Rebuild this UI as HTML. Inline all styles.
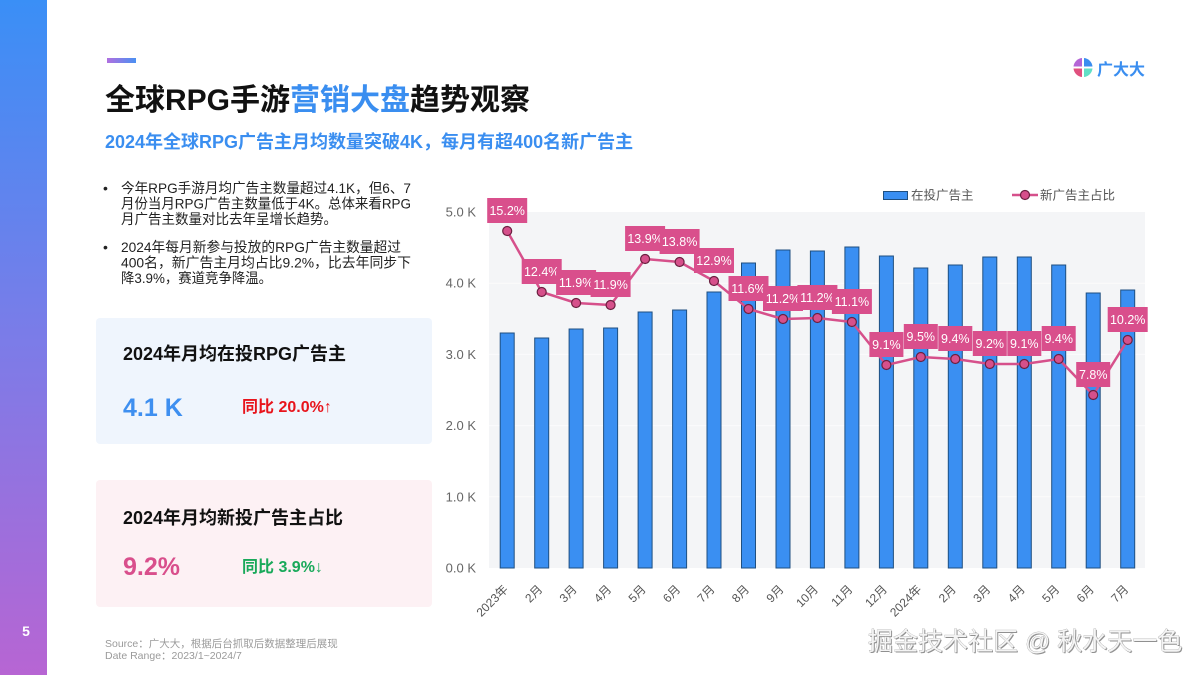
<!DOCTYPE html>
<html><head><meta charset="utf-8"><style>
html,body{margin:0;padding:0;background:#fff;}
body{width:1200px;height:675px;overflow:hidden;position:relative;}
svg{position:absolute;left:0;top:0;}
text{font-family:"Liberation Sans","Noto Sans CJK SC",sans-serif;}
</style></head><body>
<svg width="1200" height="675" viewBox="0 0 1200 675" xmlns="http://www.w3.org/2000/svg">
<defs>
<linearGradient id="side" x1="0" y1="0" x2="0" y2="1"><stop offset="0" stop-color="#3a8ff6"/><stop offset="0.5" stop-color="#7b7ce8"/><stop offset="1" stop-color="#b765d3"/></linearGradient>
<linearGradient id="deco" x1="0" y1="0" x2="1" y2="0"><stop offset="0" stop-color="#b070e0"/><stop offset="1" stop-color="#4a90f2"/></linearGradient>
</defs>
<rect x="0" y="0" width="47" height="675" fill="url(#side)"/>
<text x="26" y="636" font-size="14" font-weight="bold" fill="#fff" text-anchor="middle">5</text>
<rect x="107" y="58" width="29" height="5" fill="url(#deco)"/>
<text x="105" y="110" font-size="30" font-weight="bold" fill="#111">全球RPG手游<tspan fill="#3a8ef0">营销大盘</tspan>趋势观察</text>
<text x="105" y="148" font-size="18" font-weight="bold" fill="#3a8ef0">2024年全球RPG广告主月均数量突破4K，每月有超400名新广告主</text>
<!-- logo -->
<g transform="translate(1083,67.5)">
<path d="M-1,-1 L-1,-9.5 A9.5,9.5 0 0 0 -9.5,-1 Z" fill="#b565d6"/>
<path d="M1,-1 L9.5,-1 A9.5,9.5 0 0 0 1,-9.5 Z" fill="#3a8ef0"/>
<path d="M-1,1 L-9.5,1 A9.5,9.5 0 0 0 -1,9.5 Z" fill="#e0507e"/>
<path d="M1,1 L1,9.5 A9.5,9.5 0 0 0 9.5,1 Z" fill="#62e0c6"/>
</g>
<text x="1097" y="75" font-size="16" font-weight="bold" fill="#3a8ef0">广大大</text>
<!-- bullets -->
<g font-size="14" fill="#222">
<text x="103" y="193">•</text>
<text x="121" y="193" textLength="290" lengthAdjust="spacingAndGlyphs">今年RPG手游月均广告主数量超过4.1K，但6、7</text>
<text x="121" y="208.5" textLength="290" lengthAdjust="spacingAndGlyphs">月份当月RPG广告主数量低于4K。总体来看RPG</text>
<text x="121" y="224" textLength="216" lengthAdjust="spacingAndGlyphs">月广告主数量对比去年呈增长趋势。</text>
<text x="103" y="252">•</text>
<text x="121" y="252" textLength="280" lengthAdjust="spacingAndGlyphs">2024年每月新参与投放的RPG广告主数量超过</text>
<text x="121" y="267.5" textLength="290" lengthAdjust="spacingAndGlyphs">400名，新广告主月均占比9.2%，比去年同步下</text>
<text x="121" y="283" textLength="151" lengthAdjust="spacingAndGlyphs">降3.9%，赛道竞争降温。</text>
</g>
<!-- cards -->
<rect x="96" y="318" width="336" height="126" rx="4" fill="#eff5fd"/>
<text x="123" y="360" font-size="18" font-weight="bold" fill="#111">2024年月均在投RPG广告主</text>
<text x="123" y="416" font-size="25" font-weight="bold" fill="#3e8ff0">4.1 K</text>
<text x="242" y="412" font-size="16" font-weight="bold" fill="#e8141c">同比 20.0%↑</text>
<rect x="96" y="480" width="336" height="127" rx="4" fill="#fdf1f4"/>
<text x="123" y="524" font-size="18" font-weight="bold" fill="#111">2024年月均新投广告主占比</text>
<text x="123" y="575" font-size="25" font-weight="bold" fill="#d94f8c">9.2%</text>
<text x="242" y="572" font-size="16" font-weight="bold" fill="#19a95a">同比 3.9%↓</text>
<!-- source -->
<text x="105" y="647" font-size="10.5" fill="#9a9a9a">Source：广大大，根据后台抓取后数据整理后展现</text>
<text x="105" y="659" font-size="10.5" fill="#9a9a9a">Date Range：2023/1~2024/7</text>
<!-- chart -->
<rect x="489" y="212" width="656" height="356" fill="#f4f5f7"/>
<g stroke="#fbfbfc" stroke-width="1">
<line x1="489" y1="283.2" x2="1145" y2="283.2"/>
<line x1="489" y1="354.4" x2="1145" y2="354.4"/>
<line x1="489" y1="425.6" x2="1145" y2="425.6"/>
<line x1="489" y1="496.8" x2="1145" y2="496.8"/>
</g>
<g font-size="13" fill="#666" text-anchor="end">
<text x="476" y="216.5">5.0 K</text>
<text x="476" y="287.7">4.0 K</text>
<text x="476" y="358.9">3.0 K</text>
<text x="476" y="430.1">2.0 K</text>
<text x="476" y="501.3">1.0 K</text>
<text x="476" y="572.5">0.0 K</text>
</g>
<g fill="#3a8ff2" stroke="#1f4f80" stroke-width="1">
<rect x="500.2" y="333" width="14" height="235"/>
<rect x="534.7" y="338" width="14" height="230"/>
<rect x="569.1" y="329" width="14" height="239"/>
<rect x="603.6" y="328" width="14" height="240"/>
<rect x="638.1" y="312" width="14" height="256"/>
<rect x="672.6" y="310" width="14" height="258"/>
<rect x="707.0" y="292" width="14" height="276"/>
<rect x="741.5" y="263" width="14" height="305"/>
<rect x="776.0" y="250" width="14" height="318"/>
<rect x="810.4" y="251" width="14" height="317"/>
<rect x="844.9" y="247" width="14" height="321"/>
<rect x="879.4" y="256" width="14" height="312"/>
<rect x="913.8" y="268" width="14" height="300"/>
<rect x="948.3" y="265" width="14" height="303"/>
<rect x="982.8" y="257" width="14" height="311"/>
<rect x="1017.3" y="257" width="14" height="311"/>
<rect x="1051.7" y="265" width="14" height="303"/>
<rect x="1086.2" y="293" width="14" height="275"/>
<rect x="1120.7" y="290" width="14" height="278"/>
</g>
<polyline fill="none" stroke="#d6508b" stroke-width="2.5" stroke-linejoin="round" points="507.2,231 541.7,292 576.1,303 610.6,305 645.1,259 679.6,262 714.0,281 748.5,309 783.0,319 817.4,318 851.9,322 886.4,365 920.8,357 955.3,359 989.8,364 1024.3,364 1058.7,359 1093.2,395 1127.7,340"/>
<g fill="#d6508b" stroke="#6b2040" stroke-width="1.2">
<circle cx="507.2" cy="231" r="4.5"/><circle cx="541.7" cy="292" r="4.5"/><circle cx="576.1" cy="303" r="4.5"/><circle cx="610.6" cy="305" r="4.5"/><circle cx="645.1" cy="259" r="4.5"/><circle cx="679.6" cy="262" r="4.5"/><circle cx="714.0" cy="281" r="4.5"/><circle cx="748.5" cy="309" r="4.5"/><circle cx="783.0" cy="319" r="4.5"/><circle cx="817.4" cy="318" r="4.5"/><circle cx="851.9" cy="322" r="4.5"/><circle cx="886.4" cy="365" r="4.5"/><circle cx="920.8" cy="357" r="4.5"/><circle cx="955.3" cy="359" r="4.5"/><circle cx="989.8" cy="364" r="4.5"/><circle cx="1024.3" cy="364" r="4.5"/><circle cx="1058.7" cy="359" r="4.5"/><circle cx="1093.2" cy="395" r="4.5"/><circle cx="1127.7" cy="340" r="4.5"/>
</g>
<!-- data labels -->
<g font-size="12.5" fill="#fff" text-anchor="middle">
<rect x="487.2" y="198" width="40" height="25" fill="#d94f8c"/><text x="507.2" y="215">15.2%</text>
<rect x="521.7" y="259" width="40" height="25" fill="#d94f8c"/><text x="541.7" y="276">12.4%</text>
<rect x="556.1" y="270" width="40" height="25" fill="#d94f8c"/><text x="576.1" y="287">11.9%</text>
<rect x="590.6" y="272" width="40" height="25" fill="#d94f8c"/><text x="610.6" y="289">11.9%</text>
<rect x="625.1" y="226" width="40" height="25" fill="#d94f8c"/><text x="645.1" y="243">13.9%</text>
<rect x="659.6" y="229" width="40" height="25" fill="#d94f8c"/><text x="679.6" y="246">13.8%</text>
<rect x="694.0" y="248" width="40" height="25" fill="#d94f8c"/><text x="714.0" y="265">12.9%</text>
<rect x="728.5" y="276" width="40" height="25" fill="#d94f8c"/><text x="748.5" y="293">11.6%</text>
<rect x="763.0" y="286" width="40" height="25" fill="#d94f8c"/><text x="783.0" y="303">11.2%</text>
<rect x="797.4" y="285" width="40" height="25" fill="#d94f8c"/><text x="817.4" y="302">11.2%</text>
<rect x="831.9" y="289" width="40" height="25" fill="#d94f8c"/><text x="851.9" y="306">11.1%</text>
<rect x="869.4" y="332" width="34" height="25" fill="#d94f8c"/><text x="886.4" y="349">9.1%</text>
<rect x="903.8" y="324" width="34" height="25" fill="#d94f8c"/><text x="920.8" y="341">9.5%</text>
<rect x="938.3" y="326" width="34" height="25" fill="#d94f8c"/><text x="955.3" y="343">9.4%</text>
<rect x="972.8" y="331" width="34" height="25" fill="#d94f8c"/><text x="989.8" y="348">9.2%</text>
<rect x="1007.3" y="331" width="34" height="25" fill="#d94f8c"/><text x="1024.3" y="348">9.1%</text>
<rect x="1041.7" y="326" width="34" height="25" fill="#d94f8c"/><text x="1058.7" y="343">9.4%</text>
<rect x="1076.2" y="362" width="34" height="25" fill="#d94f8c"/><text x="1093.2" y="379">7.8%</text>
<rect x="1107.7" y="307" width="40" height="25" fill="#d94f8c"/><text x="1127.7" y="324">10.2%</text>
</g>
<!-- x labels -->
<g font-size="12" fill="#555" text-anchor="end">
<text transform="translate(508.7,590) rotate(-45)">2023年</text>
<text transform="translate(543.2,590) rotate(-45)">2月</text>
<text transform="translate(577.6,590) rotate(-45)">3月</text>
<text transform="translate(612.1,590) rotate(-45)">4月</text>
<text transform="translate(646.6,590) rotate(-45)">5月</text>
<text transform="translate(681.1,590) rotate(-45)">6月</text>
<text transform="translate(715.5,590) rotate(-45)">7月</text>
<text transform="translate(750.0,590) rotate(-45)">8月</text>
<text transform="translate(784.5,590) rotate(-45)">9月</text>
<text transform="translate(818.9,590) rotate(-45)">10月</text>
<text transform="translate(853.4,590) rotate(-45)">11月</text>
<text transform="translate(887.9,590) rotate(-45)">12月</text>
<text transform="translate(922.3,590) rotate(-45)">2024年</text>
<text transform="translate(956.8,590) rotate(-45)">2月</text>
<text transform="translate(991.3,590) rotate(-45)">3月</text>
<text transform="translate(1025.8,590) rotate(-45)">4月</text>
<text transform="translate(1060.2,590) rotate(-45)">5月</text>
<text transform="translate(1094.7,590) rotate(-45)">6月</text>
<text transform="translate(1129.2,590) rotate(-45)">7月</text>
</g>
<!-- legend -->
<rect x="883.5" y="191.5" width="24" height="8" fill="#3a8ff2" stroke="#1f4f80" stroke-width="1"/>
<text x="911" y="199.5" font-size="12.5" fill="#555">在投广告主</text>
<line x1="1012" y1="195" x2="1038" y2="195" stroke="#d6508b" stroke-width="2.5"/>
<circle cx="1025" cy="195" r="4.5" fill="#d6508b" stroke="#6b2040" stroke-width="1.2"/>
<text x="1040" y="199.5" font-size="12.5" fill="#555">新广告主占比</text>
<!-- watermark -->
<text x="869" y="651" font-size="25" fill="#777" opacity="0.8">掘金技术社区 @ 秋水天一色</text>
<text x="868" y="650" font-size="25" fill="#f4f4f4" stroke="#8a8a8a" stroke-width="0.5" style="paint-order:stroke">掘金技术社区 @ 秋水天一色</text>
</svg>
</body></html>
